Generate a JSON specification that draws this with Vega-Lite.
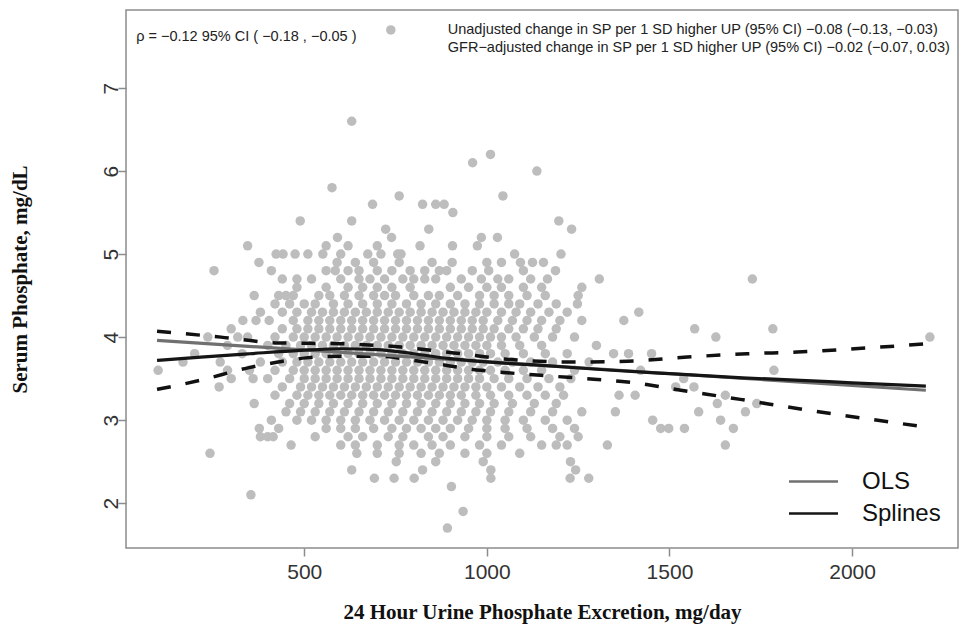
{
"$schema": "https://vega.github.io/schema/vega-lite/v6.json",
"width": 832, "height": 538,
"autosize": {"type": "none"},
"padding": {"left": 126, "top": 10, "right": 1, "bottom": 79},
"background": "white",
"config": {"view": {"stroke": "#8c8c8c", "strokeWidth": 1.5}, "font": "Liberation Sans"},
"datasets": {
"pts": [
{"upe":737,"sp":7.7},{"upe":630,"sp":6.6},{"upe":1010,"sp":6.2},{"upe":961,"sp":6.1},{"upe":1137,"sp":6.0},{"upe":576,"sp":5.8},
{"upe":760,"sp":5.7},{"upe":1044,"sp":5.7},
{"upe":687,"sp":5.6},{"upe":824,"sp":5.6},{"upe":860,"sp":5.6},{"upe":883,"sp":5.6},{"upe":907,"sp":5.5},
{"upe":489,"sp":5.4},{"upe":630,"sp":5.4},{"upe":1197,"sp":5.4},
{"upe":723,"sp":5.3},{"upe":841,"sp":5.3},{"upe":1232,"sp":5.3},
{"upe":591,"sp":5.2},{"upe":739,"sp":5.2},{"upe":985,"sp":5.2},{"upe":1029,"sp":5.2},
{"upe":345,"sp":5.1},{"upe":560,"sp":5.1},{"upe":620,"sp":5.1},{"upe":700,"sp":5.1},{"upe":817,"sp":5.1},{"upe":906,"sp":5.1},{"upe":974,"sp":5.1},
{"upe":423,"sp":5.0},{"upe":442,"sp":5.0},{"upe":475,"sp":5.0},{"upe":510,"sp":5.0},{"upe":551,"sp":5.0},{"upe":600,"sp":5.0},{"upe":674,"sp":5.0},{"upe":710,"sp":5.0},{"upe":756,"sp":5.0},{"upe":765,"sp":5.0},{"upe":1076,"sp":5.0},{"upe":1203,"sp":5.0},
{"upe":376,"sp":4.9},{"upe":590,"sp":4.9},{"upe":640,"sp":4.9},{"upe":690,"sp":4.9},{"upe":760,"sp":4.9},{"upe":850,"sp":4.9},{"upe":905,"sp":4.9},{"upe":1000,"sp":4.9},{"upe":1040,"sp":4.9},{"upe":1092,"sp":4.9},{"upe":1125,"sp":4.9},{"upe":1155,"sp":4.9},
{"upe":253,"sp":4.8},{"upe":410,"sp":4.8},{"upe":560,"sp":4.8},{"upe":585,"sp":4.8},{"upe":620,"sp":4.8},{"upe":650,"sp":4.8},{"upe":700,"sp":4.8},{"upe":740,"sp":4.8},{"upe":790,"sp":4.8},{"upe":830,"sp":4.8},{"upe":870,"sp":4.8},{"upe":890,"sp":4.8},{"upe":960,"sp":4.8},{"upe":1005,"sp":4.8},{"upe":1100,"sp":4.8},{"upe":1188,"sp":4.8},
{"upe":440,"sp":4.7},{"upe":480,"sp":4.7},{"upe":520,"sp":4.7},{"upe":600,"sp":4.7},{"upe":650,"sp":4.7},{"upe":680,"sp":4.7},{"upe":720,"sp":4.7},{"upe":770,"sp":4.7},{"upe":800,"sp":4.7},{"upe":830,"sp":4.7},{"upe":860,"sp":4.7},{"upe":930,"sp":4.7},{"upe":985,"sp":4.7},{"upe":1030,"sp":4.7},{"upe":1060,"sp":4.7},{"upe":1120,"sp":4.7},{"upe":1166,"sp":4.7},{"upe":1308,"sp":4.7},{"upe":1727,"sp":4.7},
{"upe":480,"sp":4.6},{"upe":560,"sp":4.6},{"upe":620,"sp":4.6},{"upe":660,"sp":4.6},{"upe":700,"sp":4.6},{"upe":740,"sp":4.6},{"upe":790,"sp":4.6},{"upe":900,"sp":4.6},{"upe":950,"sp":4.6},{"upe":1000,"sp":4.6},{"upe":1040,"sp":4.6},{"upe":1100,"sp":4.6},{"upe":1150,"sp":4.6},{"upe":1260,"sp":4.6},
{"upe":363,"sp":4.5},{"upe":430,"sp":4.5},{"upe":450,"sp":4.5},{"upe":470,"sp":4.5},{"upe":540,"sp":4.5},{"upe":570,"sp":4.5},{"upe":610,"sp":4.5},{"upe":650,"sp":4.5},{"upe":690,"sp":4.5},{"upe":720,"sp":4.5},{"upe":750,"sp":4.5},{"upe":800,"sp":4.5},{"upe":840,"sp":4.5},{"upe":870,"sp":4.5},{"upe":920,"sp":4.5},{"upe":980,"sp":4.5},{"upe":1020,"sp":4.5},{"upe":1060,"sp":4.5},{"upe":1110,"sp":4.5},{"upe":1160,"sp":4.5},{"upe":1250,"sp":4.5},
{"upe":420,"sp":4.4},{"upe":460,"sp":4.4},{"upe":500,"sp":4.4},{"upe":530,"sp":4.4},{"upe":580,"sp":4.4},{"upe":620,"sp":4.4},{"upe":660,"sp":4.4},{"upe":700,"sp":4.4},{"upe":740,"sp":4.4},{"upe":780,"sp":4.4},{"upe":820,"sp":4.4},{"upe":860,"sp":4.4},{"upe":900,"sp":4.4},{"upe":940,"sp":4.4},{"upe":980,"sp":4.4},{"upe":1020,"sp":4.4},{"upe":1060,"sp":4.4},{"upe":1090,"sp":4.4},{"upe":1140,"sp":4.4},{"upe":1190,"sp":4.4},{"upe":1248,"sp":4.4},
{"upe":380,"sp":4.3},{"upe":440,"sp":4.3},{"upe":480,"sp":4.3},{"upe":520,"sp":4.3},{"upe":550,"sp":4.3},{"upe":580,"sp":4.3},{"upe":610,"sp":4.3},{"upe":640,"sp":4.3},{"upe":670,"sp":4.3},{"upe":700,"sp":4.3},{"upe":730,"sp":4.3},{"upe":760,"sp":4.3},{"upe":790,"sp":4.3},{"upe":820,"sp":4.3},{"upe":850,"sp":4.3},{"upe":880,"sp":4.3},{"upe":910,"sp":4.3},{"upe":940,"sp":4.3},{"upe":970,"sp":4.3},{"upe":1000,"sp":4.3},{"upe":1040,"sp":4.3},{"upe":1080,"sp":4.3},{"upe":1120,"sp":4.3},{"upe":1170,"sp":4.3},{"upe":1220,"sp":4.3},{"upe":1416,"sp":4.3},
{"upe":332,"sp":4.2},{"upe":368,"sp":4.2},{"upe":404,"sp":4.2},{"upe":470,"sp":4.2},{"upe":510,"sp":4.2},{"upe":540,"sp":4.2},{"upe":570,"sp":4.2},{"upe":600,"sp":4.2},{"upe":630,"sp":4.2},{"upe":660,"sp":4.2},{"upe":690,"sp":4.2},{"upe":720,"sp":4.2},{"upe":750,"sp":4.2},{"upe":780,"sp":4.2},{"upe":810,"sp":4.2},{"upe":840,"sp":4.2},{"upe":870,"sp":4.2},{"upe":900,"sp":4.2},{"upe":930,"sp":4.2},{"upe":960,"sp":4.2},{"upe":990,"sp":4.2},{"upe":1030,"sp":4.2},{"upe":1070,"sp":4.2},{"upe":1110,"sp":4.2},{"upe":1150,"sp":4.2},{"upe":1200,"sp":4.2},{"upe":1260,"sp":4.2},{"upe":1375,"sp":4.2},
{"upe":300,"sp":4.1},{"upe":440,"sp":4.1},{"upe":480,"sp":4.1},{"upe":510,"sp":4.1},{"upe":540,"sp":4.1},{"upe":570,"sp":4.1},{"upe":600,"sp":4.1},{"upe":630,"sp":4.1},{"upe":660,"sp":4.1},{"upe":690,"sp":4.1},{"upe":720,"sp":4.1},{"upe":750,"sp":4.1},{"upe":780,"sp":4.1},{"upe":810,"sp":4.1},{"upe":840,"sp":4.1},{"upe":870,"sp":4.1},{"upe":900,"sp":4.1},{"upe":930,"sp":4.1},{"upe":960,"sp":4.1},{"upe":990,"sp":4.1},{"upe":1020,"sp":4.1},{"upe":1060,"sp":4.1},{"upe":1100,"sp":4.1},{"upe":1140,"sp":4.1},{"upe":1190,"sp":4.1},{"upe":1569,"sp":4.1},{"upe":1783,"sp":4.1},
{"upe":236,"sp":4.0},{"upe":318,"sp":4.0},{"upe":345,"sp":4.0},{"upe":420,"sp":4.0},{"upe":470,"sp":4.0},{"upe":500,"sp":4.0},{"upe":530,"sp":4.0},{"upe":560,"sp":4.0},{"upe":590,"sp":4.0},{"upe":620,"sp":4.0},{"upe":650,"sp":4.0},{"upe":680,"sp":4.0},{"upe":710,"sp":4.0},{"upe":740,"sp":4.0},{"upe":770,"sp":4.0},{"upe":800,"sp":4.0},{"upe":830,"sp":4.0},{"upe":860,"sp":4.0},{"upe":890,"sp":4.0},{"upe":920,"sp":4.0},{"upe":950,"sp":4.0},{"upe":980,"sp":4.0},{"upe":1010,"sp":4.0},{"upe":1040,"sp":4.0},{"upe":1080,"sp":4.0},{"upe":1130,"sp":4.0},{"upe":1180,"sp":4.0},{"upe":1240,"sp":4.0},{"upe":1627,"sp":4.0},{"upe":2213,"sp":4.0},
{"upe":290,"sp":3.9},{"upe":400,"sp":3.9},{"upe":450,"sp":3.9},{"upe":490,"sp":3.9},{"upe":520,"sp":3.9},{"upe":550,"sp":3.9},{"upe":580,"sp":3.9},{"upe":610,"sp":3.9},{"upe":640,"sp":3.9},{"upe":670,"sp":3.9},{"upe":700,"sp":3.9},{"upe":730,"sp":3.9},{"upe":760,"sp":3.9},{"upe":790,"sp":3.9},{"upe":820,"sp":3.9},{"upe":850,"sp":3.9},{"upe":880,"sp":3.9},{"upe":910,"sp":3.9},{"upe":940,"sp":3.9},{"upe":970,"sp":3.9},{"upe":1000,"sp":3.9},{"upe":1040,"sp":3.9},{"upe":1090,"sp":3.9},{"upe":1150,"sp":3.9},{"upe":1300,"sp":3.9},
{"upe":200,"sp":3.8},{"upe":330,"sp":3.8},{"upe":430,"sp":3.8},{"upe":470,"sp":3.8},{"upe":500,"sp":3.8},{"upe":530,"sp":3.8},{"upe":560,"sp":3.8},{"upe":590,"sp":3.8},{"upe":620,"sp":3.8},{"upe":650,"sp":3.8},{"upe":680,"sp":3.8},{"upe":710,"sp":3.8},{"upe":740,"sp":3.8},{"upe":770,"sp":3.8},{"upe":800,"sp":3.8},{"upe":830,"sp":3.8},{"upe":860,"sp":3.8},{"upe":890,"sp":3.8},{"upe":920,"sp":3.8},{"upe":950,"sp":3.8},{"upe":980,"sp":3.8},{"upe":1010,"sp":3.8},{"upe":1050,"sp":3.8},{"upe":1100,"sp":3.8},{"upe":1160,"sp":3.8},{"upe":1220,"sp":3.8},{"upe":1347,"sp":3.8},{"upe":1388,"sp":3.8},{"upe":1451,"sp":3.8},
{"upe":168,"sp":3.7},{"upe":270,"sp":3.7},{"upe":380,"sp":3.7},{"upe":440,"sp":3.7},{"upe":480,"sp":3.7},{"upe":510,"sp":3.7},{"upe":540,"sp":3.7},{"upe":570,"sp":3.7},{"upe":600,"sp":3.7},{"upe":630,"sp":3.7},{"upe":660,"sp":3.7},{"upe":690,"sp":3.7},{"upe":720,"sp":3.7},{"upe":750,"sp":3.7},{"upe":780,"sp":3.7},{"upe":810,"sp":3.7},{"upe":840,"sp":3.7},{"upe":870,"sp":3.7},{"upe":900,"sp":3.7},{"upe":930,"sp":3.7},{"upe":960,"sp":3.7},{"upe":990,"sp":3.7},{"upe":1030,"sp":3.7},{"upe":1070,"sp":3.7},{"upe":1120,"sp":3.7},{"upe":1180,"sp":3.7},{"upe":1280,"sp":3.7},
{"upe":100,"sp":3.6},{"upe":290,"sp":3.6},{"upe":350,"sp":3.6},{"upe":420,"sp":3.6},{"upe":470,"sp":3.6},{"upe":500,"sp":3.6},{"upe":530,"sp":3.6},{"upe":560,"sp":3.6},{"upe":590,"sp":3.6},{"upe":620,"sp":3.6},{"upe":650,"sp":3.6},{"upe":680,"sp":3.6},{"upe":710,"sp":3.6},{"upe":740,"sp":3.6},{"upe":770,"sp":3.6},{"upe":800,"sp":3.6},{"upe":830,"sp":3.6},{"upe":860,"sp":3.6},{"upe":890,"sp":3.6},{"upe":920,"sp":3.6},{"upe":950,"sp":3.6},{"upe":980,"sp":3.6},{"upe":1010,"sp":3.6},{"upe":1050,"sp":3.6},{"upe":1100,"sp":3.6},{"upe":1150,"sp":3.6},{"upe":1240,"sp":3.6},{"upe":1421,"sp":3.6},{"upe":1786,"sp":3.6},
{"upe":300,"sp":3.5},{"upe":360,"sp":3.5},{"upe":400,"sp":3.5},{"upe":460,"sp":3.5},{"upe":500,"sp":3.5},{"upe":530,"sp":3.5},{"upe":560,"sp":3.5},{"upe":590,"sp":3.5},{"upe":620,"sp":3.5},{"upe":650,"sp":3.5},{"upe":680,"sp":3.5},{"upe":710,"sp":3.5},{"upe":740,"sp":3.5},{"upe":770,"sp":3.5},{"upe":800,"sp":3.5},{"upe":830,"sp":3.5},{"upe":860,"sp":3.5},{"upe":890,"sp":3.5},{"upe":920,"sp":3.5},{"upe":950,"sp":3.5},{"upe":980,"sp":3.5},{"upe":1020,"sp":3.5},{"upe":1060,"sp":3.5},{"upe":1110,"sp":3.5},{"upe":1170,"sp":3.5},{"upe":1230,"sp":3.5},{"upe":1539,"sp":3.5},
{"upe":267,"sp":3.4},{"upe":440,"sp":3.4},{"upe":490,"sp":3.4},{"upe":520,"sp":3.4},{"upe":550,"sp":3.4},{"upe":580,"sp":3.4},{"upe":610,"sp":3.4},{"upe":640,"sp":3.4},{"upe":670,"sp":3.4},{"upe":700,"sp":3.4},{"upe":730,"sp":3.4},{"upe":760,"sp":3.4},{"upe":790,"sp":3.4},{"upe":820,"sp":3.4},{"upe":850,"sp":3.4},{"upe":880,"sp":3.4},{"upe":910,"sp":3.4},{"upe":940,"sp":3.4},{"upe":970,"sp":3.4},{"upe":1000,"sp":3.4},{"upe":1040,"sp":3.4},{"upe":1090,"sp":3.4},{"upe":1140,"sp":3.4},{"upe":1200,"sp":3.4},{"upe":1517,"sp":3.4},{"upe":1567,"sp":3.4},
{"upe":420,"sp":3.3},{"upe":480,"sp":3.3},{"upe":510,"sp":3.3},{"upe":540,"sp":3.3},{"upe":570,"sp":3.3},{"upe":600,"sp":3.3},{"upe":630,"sp":3.3},{"upe":660,"sp":3.3},{"upe":690,"sp":3.3},{"upe":720,"sp":3.3},{"upe":750,"sp":3.3},{"upe":780,"sp":3.3},{"upe":810,"sp":3.3},{"upe":840,"sp":3.3},{"upe":870,"sp":3.3},{"upe":900,"sp":3.3},{"upe":930,"sp":3.3},{"upe":970,"sp":3.3},{"upe":1010,"sp":3.3},{"upe":1060,"sp":3.3},{"upe":1110,"sp":3.3},{"upe":1160,"sp":3.3},{"upe":1210,"sp":3.3},{"upe":1362,"sp":3.3},{"upe":1406,"sp":3.3},{"upe":1653,"sp":3.3},
{"upe":363,"sp":3.2},{"upe":460,"sp":3.2},{"upe":500,"sp":3.2},{"upe":540,"sp":3.2},{"upe":580,"sp":3.2},{"upe":620,"sp":3.2},{"upe":660,"sp":3.2},{"upe":700,"sp":3.2},{"upe":740,"sp":3.2},{"upe":780,"sp":3.2},{"upe":820,"sp":3.2},{"upe":860,"sp":3.2},{"upe":900,"sp":3.2},{"upe":940,"sp":3.2},{"upe":980,"sp":3.2},{"upe":1020,"sp":3.2},{"upe":1070,"sp":3.2},{"upe":1130,"sp":3.2},{"upe":1190,"sp":3.2},{"upe":1631,"sp":3.2},{"upe":1739,"sp":3.2},
{"upe":450,"sp":3.1},{"upe":490,"sp":3.1},{"upe":530,"sp":3.1},{"upe":570,"sp":3.1},{"upe":610,"sp":3.1},{"upe":650,"sp":3.1},{"upe":690,"sp":3.1},{"upe":730,"sp":3.1},{"upe":770,"sp":3.1},{"upe":810,"sp":3.1},{"upe":850,"sp":3.1},{"upe":890,"sp":3.1},{"upe":930,"sp":3.1},{"upe":970,"sp":3.1},{"upe":1010,"sp":3.1},{"upe":1060,"sp":3.1},{"upe":1120,"sp":3.1},{"upe":1180,"sp":3.1},{"upe":1260,"sp":3.1},{"upe":1352,"sp":3.1},{"upe":1580,"sp":3.1},{"upe":1708,"sp":3.1},
{"upe":410,"sp":3.0},{"upe":480,"sp":3.0},{"upe":520,"sp":3.0},{"upe":560,"sp":3.0},{"upe":600,"sp":3.0},{"upe":640,"sp":3.0},{"upe":680,"sp":3.0},{"upe":720,"sp":3.0},{"upe":760,"sp":3.0},{"upe":800,"sp":3.0},{"upe":840,"sp":3.0},{"upe":880,"sp":3.0},{"upe":920,"sp":3.0},{"upe":960,"sp":3.0},{"upe":1000,"sp":3.0},{"upe":1050,"sp":3.0},{"upe":1100,"sp":3.0},{"upe":1160,"sp":3.0},{"upe":1220,"sp":3.0},{"upe":1454,"sp":3.0},{"upe":1640,"sp":3.0},
{"upe":377,"sp":2.9},{"upe":430,"sp":2.9},{"upe":560,"sp":2.9},{"upe":600,"sp":2.9},{"upe":640,"sp":2.9},{"upe":690,"sp":2.9},{"upe":740,"sp":2.9},{"upe":780,"sp":2.9},{"upe":820,"sp":2.9},{"upe":860,"sp":2.9},{"upe":900,"sp":2.9},{"upe":950,"sp":2.9},{"upe":1000,"sp":2.9},{"upe":1050,"sp":2.9},{"upe":1110,"sp":2.9},{"upe":1180,"sp":2.9},{"upe":1240,"sp":2.9},{"upe":1476,"sp":2.9},{"upe":1498,"sp":2.9},{"upe":1541,"sp":2.9},{"upe":1675,"sp":2.9},
{"upe":380,"sp":2.8},{"upe":400,"sp":2.8},{"upe":415,"sp":2.8},{"upe":530,"sp":2.8},{"upe":620,"sp":2.8},{"upe":660,"sp":2.8},{"upe":730,"sp":2.8},{"upe":770,"sp":2.8},{"upe":840,"sp":2.8},{"upe":880,"sp":2.8},{"upe":940,"sp":2.8},{"upe":1000,"sp":2.8},{"upe":1060,"sp":2.8},{"upe":1120,"sp":2.8},{"upe":1200,"sp":2.8},{"upe":1250,"sp":2.8},
{"upe":464,"sp":2.7},{"upe":600,"sp":2.7},{"upe":640,"sp":2.7},{"upe":700,"sp":2.7},{"upe":760,"sp":2.7},{"upe":800,"sp":2.7},{"upe":850,"sp":2.7},{"upe":900,"sp":2.7},{"upe":980,"sp":2.7},{"upe":1040,"sp":2.7},{"upe":1150,"sp":2.7},{"upe":1190,"sp":2.7},{"upe":1220,"sp":2.7},{"upe":1330,"sp":2.7},{"upe":1653,"sp":2.7},
{"upe":242,"sp":2.6},{"upe":644,"sp":2.6},{"upe":700,"sp":2.6},{"upe":760,"sp":2.6},{"upe":820,"sp":2.6},{"upe":870,"sp":2.6},{"upe":940,"sp":2.6},{"upe":1000,"sp":2.6},{"upe":1090,"sp":2.6},
{"upe":752,"sp":2.5},{"upe":860,"sp":2.5},{"upe":990,"sp":2.5},{"upe":1229,"sp":2.5},
{"upe":630,"sp":2.4},{"upe":824,"sp":2.4},{"upe":1011,"sp":2.4},{"upe":1243,"sp":2.4},
{"upe":692,"sp":2.3},{"upe":746,"sp":2.3},{"upe":801,"sp":2.3},{"upe":1011,"sp":2.3},{"upe":1228,"sp":2.3},{"upe":1279,"sp":2.3},
{"upe":903,"sp":2.2},{"upe":354,"sp":2.1},{"upe":935,"sp":1.9},{"upe":892,"sp":1.7}
],
"fits": [
{"upe":97,"sp":3.96,"fit":"OLS"},{"upe":2202,"sp":3.36,"fit":"OLS"},
{"upe":97,"sp":3.72,"fit":"Splines"},{"upe":217,"sp":3.76,"fit":"Splines"},{"upe":350,"sp":3.80,"fit":"Splines"},{"upe":491,"sp":3.84,"fit":"Splines"},{"upe":600,"sp":3.86,"fit":"Splines"},{"upe":700,"sp":3.85,"fit":"Splines"},{"upe":800,"sp":3.80,"fit":"Splines"},{"upe":900,"sp":3.74,"fit":"Splines"},{"upe":1038,"sp":3.69,"fit":"Splines"},{"upe":1150,"sp":3.66,"fit":"Splines"},{"upe":1311,"sp":3.61,"fit":"Splines"},{"upe":1500,"sp":3.56,"fit":"Splines"},{"upe":1700,"sp":3.51,"fit":"Splines"},{"upe":1859,"sp":3.48,"fit":"Splines"},{"upe":2000,"sp":3.45,"fit":"Splines"},{"upe":2202,"sp":3.41,"fit":"Splines"}
],
"ci": [
{"upe":97,"sp":4.07,"band":"upper"},{"upe":272,"sp":4.00,"band":"upper"},{"upe":428,"sp":3.93,"band":"upper"},{"upe":600,"sp":3.92,"band":"upper"},{"upe":765,"sp":3.88,"band":"upper"},{"upe":910,"sp":3.81,"band":"upper"},{"upe":1065,"sp":3.73,"band":"upper"},{"upe":1229,"sp":3.70,"band":"upper"},{"upe":1385,"sp":3.71,"band":"upper"},{"upe":1549,"sp":3.76,"band":"upper"},{"upe":1713,"sp":3.80,"band":"upper"},{"upe":1850,"sp":3.82,"band":"upper"},{"upe":2078,"sp":3.88,"band":"upper"},{"upe":2206,"sp":3.92,"band":"upper"},
{"upe":97,"sp":3.37,"band":"lower"},{"upe":215,"sp":3.48,"band":"lower"},{"upe":346,"sp":3.63,"band":"lower"},{"upe":428,"sp":3.70,"band":"lower"},{"upe":505,"sp":3.75,"band":"lower"},{"upe":600,"sp":3.77,"band":"lower"},{"upe":700,"sp":3.77,"band":"lower"},{"upe":828,"sp":3.70,"band":"lower"},{"upe":984,"sp":3.60,"band":"lower"},{"upe":1147,"sp":3.54,"band":"lower"},{"upe":1303,"sp":3.49,"band":"lower"},{"upe":1385,"sp":3.46,"band":"lower"},{"upe":1531,"sp":3.36,"band":"lower"},{"upe":1694,"sp":3.25,"band":"lower"},{"upe":1850,"sp":3.14,"band":"lower"},{"upe":2197,"sp":2.92,"band":"lower"}
],
"notes": [
{"upe":40,"sp":7.61,"label":"ρ = −0.12  95% CI ( −0.18 ,  −0.05 )"},
{"upe":893,"sp":7.70,"label":"Unadjusted change in SP per 1 SD higher UP (95% CI) −0.08 (−0.13, −0.03)"},
{"upe":893,"sp":7.48,"label":"GFR−adjusted change in SP per 1 SD higher UP (95% CI) −0.02 (−0.07, 0.03)"}
]
},
"layer": [
{
"data": {"name": "pts"},
"mark": {"type": "circle", "size": 90, "color": "#bdbdbd", "opacity": 1},
"encoding": {
"x": {"field": "upe", "type": "quantitative",
"scale": {"domain": [12, 2290], "nice": false, "zero": false},
"axis": {"title": "24 Hour Urine Phosphate Excretion, mg/day", "values": [500, 1000, 1500, 2000], "format": "d", "grid": false, "domain": false,
"ticks": true, "tickColor": "#8c8c8c", "tickSize": 8, "tickWidth": 1.5,
"labelFont": "Liberation Sans", "labelFontSize": 21, "labelColor": "#333333", "labelPadding": 5,
"titleFont": "Liberation Serif", "titleFontSize": 21, "titleFontWeight": "bold", "titleColor": "#111111", "titlePadding": 19}},
"y": {"field": "sp", "type": "quantitative",
"scale": {"domain": [1.46, 7.94], "nice": false, "zero": false},
"axis": {"title": "Serum Phosphate, mg/dL", "values": [2, 3, 4, 5, 6, 7], "format": "d", "grid": false, "domain": false,
"tickColor": "#8c8c8c", "tickSize": 8, "tickWidth": 1.5, "labelAngle": -90,
"labelFont": "Liberation Sans", "labelFontSize": 21, "labelColor": "#333333", "labelPadding": -3,
"titleFont": "Liberation Serif", "titleFontSize": 21, "titleFontWeight": "bold", "titleColor": "#111111", "titlePadding": 70}}
}
},
{
"data": {"name": "ci"},
"mark": {"type": "line", "color": "#111111", "strokeWidth": 3.5, "strokeDash": [14, 15], "interpolate": "monotone"},
"encoding": {
"x": {"field": "upe", "type": "quantitative"},
"y": {"field": "sp", "type": "quantitative"},
"detail": {"field": "band", "type": "nominal"}
}
},
{
"data": {"name": "fits"},
"mark": {"type": "line", "strokeWidth": 3.2, "interpolate": "monotone"},
"encoding": {
"x": {"field": "upe", "type": "quantitative"},
"y": {"field": "sp", "type": "quantitative"},
"color": {"field": "fit", "type": "nominal",
"scale": {"domain": ["OLS", "Splines"], "range": ["#707070", "#151515"]},
"legend": {"title": null, "orient": "none", "legendX": 674, "legendY": 458, "padding": 0,
"symbolType": "M-2,0H2", "symbolSize": 600, "symbolStrokeWidth": 2.5,
"labelFont": "Liberation Sans", "labelFontSize": 24, "labelColor": "#111111", "labelOffset": 35, "rowPadding": 6}}
}
},
{
"data": {"name": "notes"},
"mark": {"type": "text", "align": "left", "baseline": "middle", "fontSize": 14.5, "font": "Liberation Sans", "color": "#222222"},
"encoding": {
"x": {"field": "upe", "type": "quantitative"},
"y": {"field": "sp", "type": "quantitative"},
"text": {"field": "label", "type": "nominal"}
}
}
]
}
